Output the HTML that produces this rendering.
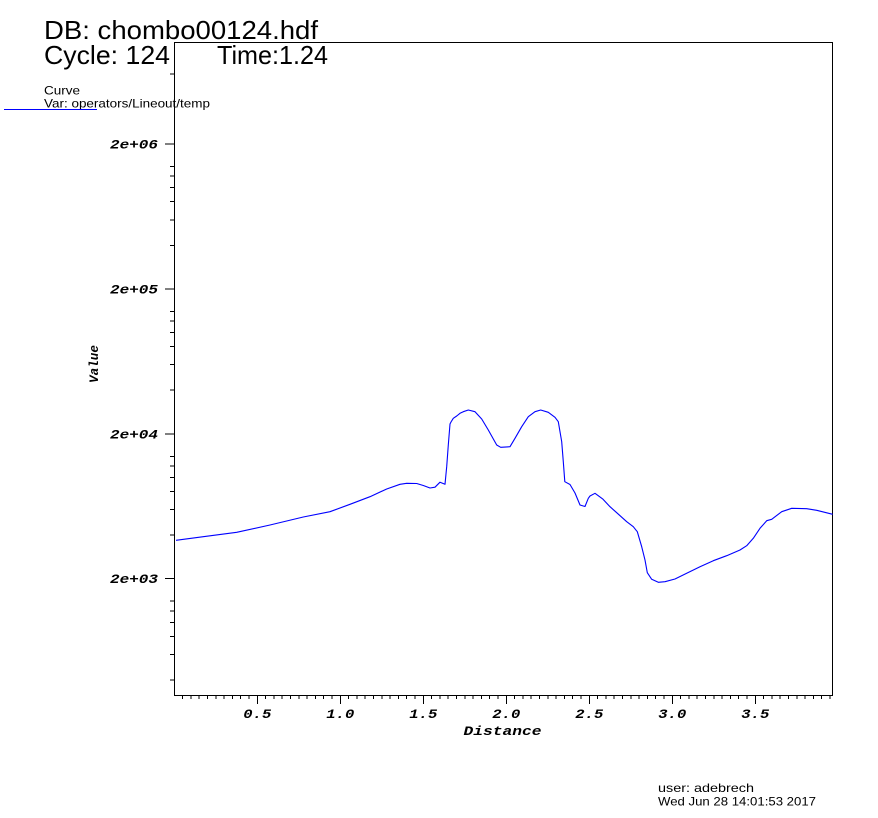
<!DOCTYPE html>
<html><head><meta charset="utf-8"><style>
html,body{margin:0;padding:0;background:#fff;}
svg{display:block;}
.t{font-family:"Liberation Sans",sans-serif;fill:#000;}
.m{font-family:"Liberation Mono",monospace;font-weight:bold;font-style:italic;fill:#000;}
</style></head><body>
<svg width="878" height="818" viewBox="0 0 878 818" xmlns="http://www.w3.org/2000/svg">
<rect width="878" height="818" fill="#fff"/>
<text class="t" x="44" y="39" font-size="26" textLength="274" lengthAdjust="spacingAndGlyphs">DB: chombo00124.hdf</text>
<text class="t" x="44" y="64" font-size="26" textLength="126" lengthAdjust="spacingAndGlyphs">Cycle: 124</text>
<text class="t" x="217" y="64" font-size="26" textLength="111" lengthAdjust="spacingAndGlyphs">Time:1.24</text>
<text class="t" x="44" y="94.5" font-size="12" textLength="36" lengthAdjust="spacingAndGlyphs">Curve</text>
<text class="t" x="44" y="107.5" font-size="12" textLength="166" lengthAdjust="spacingAndGlyphs">Var: operators/Lineout/temp</text>
<line x1="4" y1="109.5" x2="97" y2="109.5" stroke="#0000ff" stroke-width="1"/>

<rect x="174.5" y="42.5" width="658" height="653" fill="none" stroke="#000" stroke-width="1" shape-rendering="crispEdges"/>

<g stroke="#000" stroke-width="1" shape-rendering="crispEdges">
<path d="M165 144H174M165 288.9H174M165 433.8H174M165 578.7H174"/>
<path d="M170 74H174M170 166.5H174M170 176.1H174M170 187.6H174M170 201.7H174M170 219.8H174M170 245.3H174M170 311.4H174M170 321H174M170 332.5H174M170 346.6H174M170 364.7H174M170 390.2H174M170 456.3H174M170 465.9H174M170 477.4H174M170 491.5H174M170 509.6H174M170 535.1H174M170 601.2H174M170 610.8H174M170 622.3H174M170 636.4H174M170 654.5H174M170 680H174"/>
<path d="M257.3 695V704M340.3 695V704M423.3 695V704M506.3 695V704M589.3 695V704M672.3 695V704M755.3 695V704"/>
<path d="M182.6 695v4M190.9 695v4M199.2 695v4M207.5 695v4M215.8 695v4M224.1 695v4M232.4 695v4M240.7 695v4M249 695v4M265.6 695v4M273.9 695v4M282.2 695v4M290.5 695v4M298.8 695v4M307.1 695v4M315.4 695v4M323.7 695v4M332 695v4M348.6 695v4M356.9 695v4M365.2 695v4M373.5 695v4M381.8 695v4M390.1 695v4M398.4 695v4M406.7 695v4M415 695v4M431.6 695v4M439.9 695v4M448.2 695v4M456.5 695v4M464.8 695v4M473.1 695v4M481.4 695v4M489.7 695v4M498 695v4M514.6 695v4M522.9 695v4M531.2 695v4M539.5 695v4M547.8 695v4M556.1 695v4M564.4 695v4M572.7 695v4M581 695v4M597.6 695v4M605.9 695v4M614.2 695v4M622.5 695v4M630.8 695v4M639.1 695v4M647.4 695v4M655.7 695v4M664 695v4M680.6 695v4M688.9 695v4M697.2 695v4M705.5 695v4M713.8 695v4M722.1 695v4M730.4 695v4M738.7 695v4M747 695v4M763.6 695v4M771.9 695v4M780.2 695v4M788.5 695v4M796.8 695v4M805.1 695v4M813.4 695v4M821.7 695v4M830 695v4"/>
</g>

<g class="m" font-size="13">
<text x="110" y="148.5" textLength="48" lengthAdjust="spacingAndGlyphs">2e+06</text>
<text x="110" y="293.4" textLength="48" lengthAdjust="spacingAndGlyphs">2e+05</text>
<text x="110" y="438.3" textLength="48" lengthAdjust="spacingAndGlyphs">2e+04</text>
<text x="110" y="583.2" textLength="48" lengthAdjust="spacingAndGlyphs">2e+03</text>
<text x="243.3" y="718" textLength="28" lengthAdjust="spacingAndGlyphs">0.5</text>
<text x="326.3" y="718" textLength="28" lengthAdjust="spacingAndGlyphs">1.0</text>
<text x="409.3" y="718" textLength="28" lengthAdjust="spacingAndGlyphs">1.5</text>
<text x="492.3" y="718" textLength="28" lengthAdjust="spacingAndGlyphs">2.0</text>
<text x="575.3" y="718" textLength="28" lengthAdjust="spacingAndGlyphs">2.5</text>
<text x="658.3" y="718" textLength="28" lengthAdjust="spacingAndGlyphs">3.0</text>
<text x="741.3" y="718" textLength="28" lengthAdjust="spacingAndGlyphs">3.5</text>
<text x="463.5" y="735" textLength="78" lengthAdjust="spacingAndGlyphs">Distance</text>
<text transform="translate(98,383) rotate(-90)" x="0" y="0" textLength="38" lengthAdjust="spacingAndGlyphs">Value</text>
</g>

<polyline fill="none" stroke="#0000ff" stroke-width="1.1" stroke-linejoin="round" points="176,540.3 203.3,536.7 236.7,532.3 270,525 303.3,517 330,511.7 350,504.3 370,496.7 386.7,489 400,484.3 406.7,483.3 416.7,483.5 423.3,485.5 430,488 435,487.2 440,482.2 445,484.3 446.7,466.7 448.3,445 450,424 451,422 453.3,418.3 456.7,416 460,413.3 463.3,411.7 468.3,410 475,411.7 481.7,419 488.3,430 496.7,445 500.7,447.3 510,446.7 515,438.3 521.7,426.7 528.3,416.7 535,411.7 540.7,410 548.3,412.3 555,417.3 558.3,421.7 561.7,441.7 563.3,461.7 564.8,481.7 570,484.5 575,493 580,505 585,506.5 588.3,498.3 590,496 595,493.3 603,499.2 610,506.7 616.7,512.7 626.7,521.7 633.3,526.7 637.3,531.7 641.7,546.7 645,560 647.3,572.7 651.7,579.3 658.3,582.3 665,581.7 675,579 686.7,573.3 700,566.7 713.3,560.7 726.7,555.7 740,550 746.7,545.7 753.3,538.3 760,528.3 766.7,520.7 771.7,519.3 781.7,511.7 791.7,508.3 806.7,508.7 816.7,510.3 832.7,514.3"/>

<text class="t" x="658" y="792" font-size="12" textLength="96" lengthAdjust="spacingAndGlyphs">user: adebrech</text>
<text class="t" x="658" y="805.5" font-size="12" textLength="158" lengthAdjust="spacingAndGlyphs">Wed Jun 28 14:01:53 2017</text>
</svg>
</body></html>
